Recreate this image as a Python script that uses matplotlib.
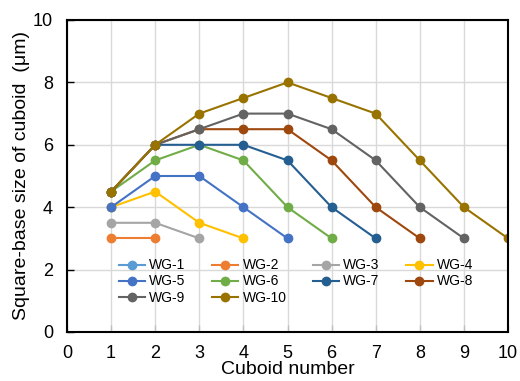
import matplotlib
matplotlib.use("Agg")
import matplotlib.pyplot as plt

plt.rcParams["font.family"] = ["Liberation Sans", "DejaVu Sans"]

# values per waveguide, cuboid number starts at 1
series_names = ["WG-1", "WG-2", "WG-3", "WG-4", "WG-5",
                "WG-6", "WG-7", "WG-8", "WG-9", "WG-10"]
wg1 = [4.0]
wg2 = [3.0, 3.0]
wg3 = [3.5, 3.5, 3.0]
wg4 = [4.0, 4.5, 3.5, 3.0]
wg5 = [4.0, 5.0, 5.0, 4.0, 3.0]
wg6 = [4.5, 5.5, 6.0, 5.5, 4.0, 3.0]
wg7 = [4.5, 6.0, 6.0, 6.0, 5.5, 4.0, 3.0]
wg8 = [4.5, 6.0, 6.5, 6.5, 6.5, 5.5, 4.0, 3.0]
wg9 = [4.5, 6.0, 6.5, 7.0, 7.0, 6.5, 5.5, 4.0, 3.0]
wg10 = [4.5, 6.0, 7.0, 7.5, 8.0, 7.5, 7.0, 5.5, 4.0, 3.0]
all_series = [wg1, wg2, wg3, wg4, wg5, wg6, wg7, wg8, wg9, wg10]

colors = ["#5B9BD5", "#ED7D31", "#A5A5A5", "#FFC000", "#4472C4",
          "#70AD47", "#255E91", "#9E480E", "#636363", "#997300"]

x_ticks = list(range(0, 11))
y_ticks = [0, 2, 4, 6, 8, 10]

fig = plt.figure(figsize=(5.2, 3.81), dpi=100)
ax = fig.add_axes([67 / 520, 1 - 332 / 381, (508 - 67) / 520, (332 - 20) / 381])

handles = []
for name, vals, c in zip(series_names, all_series, colors):
    xs = list(range(1, len(vals) + 1))
    h, = ax.plot(xs, vals, color=c, linewidth=1.5, marker="o", markersize=6, label=name)
    handles.append(h)

ax.set_xlim(0, 10)
ax.set_ylim(0, 10)
ax.set_xticks(x_ticks)
ax.set_yticks(y_ticks)
ax.grid(True, color="#d9d9d9", linewidth=1)
ax.set_axisbelow(True)
for spine in ax.spines.values():
    spine.set_color("black")
    spine.set_linewidth(1.5)
ax.tick_params(direction="in", length=5, width=1, labelsize=13, colors="black", pad=10)
ax.tick_params(axis="x", color="#bfbfbf", pad=9)

ax.set_xlabel("Cuboid number", fontsize=14, labelpad=0)
ax.set_ylabel("Square-base size of cuboid  (\u03bcm)", fontsize=14, labelpad=2)

# legend filled row by row like the original (4 columns)
order = [0, 4, 8, 1, 5, 9, 2, 6, 3, 7]
ax.legend([handles[i] for i in order], [series_names[i] for i in order],
          ncol=4, loc="lower left", bbox_to_anchor=(0.117, 0.088), frameon=False,
          fontsize=10, handlelength=1.9, handletextpad=0.3, columnspacing=1.9,
          labelspacing=0.15, borderaxespad=0, borderpad=0)

fig.savefig("out.png", dpi=100, facecolor="white")
